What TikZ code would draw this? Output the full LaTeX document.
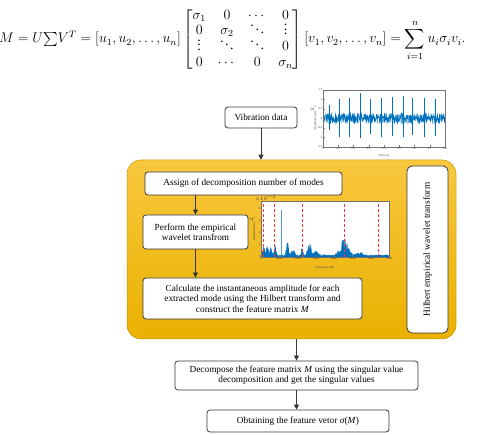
\documentclass[tikz,border=0pt]{standalone}
\usepackage{amsmath}
\usepackage{graphicx}
\usepackage{fontspec}
\setmainfont{Liberation Serif}
\usetikzlibrary{arrows.meta}
\definecolor{mblue}{RGB}{0,114,189}
\definecolor{orangeT}{RGB}{249,199,62}
\definecolor{orangeB}{RGB}{233,177,0}
\definecolor{edge}{RGB}{55,55,55}
\begin{document}
\begin{tikzpicture}[x=1pt,y=-1pt,
  stepbox/.style={draw=edge, line width=0.8pt, fill=white, rounded corners=3pt, inner sep=1pt, align=center, font=\fontsize{9.3}{10.4}\selectfont},
  flow/.style={draw=edge, line width=0.7pt, -{Triangle[length=5pt,width=5pt]}},
  tiny/.style={font=\fontsize{3}{3.5}\selectfont, inner sep=0.4pt, text=black!75},
  axisline/.style={draw=black!55, line width=0.25pt},
]
\useasboundingbox (0,0) rectangle (482,435);

% equation
\node[anchor=west, inner sep=0] (eq) at (-1,39.5) {\scalebox{1.168}{\fontsize{12}{14}\selectfont\renewcommand{\arraystretch}{0.96}%
  $\displaystyle M = U{\textstyle\sum}V^T = [u_1, u_2, \ldots, u_n]
  \begin{bmatrix}\sigma_1 & 0 & \cdots & 0\\ 0 & \sigma_2 & \smash{\ddots} & \smash{\vdots}\\ \smash{\vdots} & \smash{\ddots} & \smash{\ddots} & 0\\ 0 & \cdots & 0 & \sigma_n\end{bmatrix}
  [v_1, v_2, \ldots, v_n] = \sum_{i=1}^{n} u_i\sigma_i v_i.$}};

% orange region
\node[draw=orangeB!85!black, line width=0.5pt, rounded corners=14pt, top color=orangeT, bottom color=orangeB,
      minimum width=329pt, minimum height=179pt, inner sep=0] (hewt) at (291.5,249.5) {};

% boxes
\node[stepbox, minimum width=72pt, minimum height=21pt] (vib) at (261,117.5) {Vibration data};
\node[stepbox, minimum width=197pt, minimum height=23pt] (assign) at (243.5,183.5) {Assign of decomposition number of modes};
\node[stepbox, minimum width=105pt, minimum height=34pt] (perform) at (195.5,232) {Perform the empirical\\wavelet transfrom};
\node[stepbox, minimum width=219pt, minimum height=41pt] (calc) at (252.5,298.5) {Calculate the instantaneous amplitude for each\\extracted mode using the Hilbert transform and\\construct the feature matrix \textit{M}};
\node[stepbox, rounded corners=5pt, minimum width=167pt, minimum height=41pt, rotate=90] (hilb) at (427.5,249.5) {Hilbert empirical wavelet transform};
\node[stepbox, minimum width=243pt, minimum height=29pt] (decomp) at (296.5,375.5) {Decompose the feature matrix \textit{M} using the singular value\\decomposition and get the singular values};
\node[stepbox, minimum width=182pt, minimum height=22pt] (obtain) at (298,421) {Obtaining the feature vetor \textit{σ}(\textit{M})};

% arrows
\draw[flow] (vib.south) -- (vib.south |- hewt.north);
\draw[flow] (assign.south -| perform.north) -- (perform.north);
\draw[flow] (perform.south) -- (perform.south |- calc.north);
\draw[flow] (decomp.north |- hewt.south) -- (decomp.north);
\draw[flow] (decomp.south) -- (decomp.south |- obtain.north);

% time plot
\begin{scope}[shift={(323pt,-118.5pt)}, x=152.5pt, y=19pt]
  \fill[white] (0,-1.5) rectangle (0.8,1.5);
  \begin{scope}
    \clip (0,-1.5) rectangle (0.8,1.5);
    \pgfmathsetseed{7}
    \draw[mblue, line width=0.4pt] plot[domain=0:0.8, samples=560] (\x, {0.28*rand});
    \foreach \t/\u/\d in {0.04/0.7/-0.6, 0.109/1.05/-1.0, 0.174/1.1/-0.95, 0.244/1.35/-1.05, 0.309/1.0/-0.8,
                          0.381/1.1/-1.0, 0.451/1.15/-0.9, 0.523/1.2/-1.0, 0.588/1.1/-0.85, 0.664/1.1/-1.0, 0.734/1.0/-0.9}
      {\draw[mblue, line width=0.45pt] (\t,\d) -- (\t,\u);}
  \end{scope}
  \draw[axisline] (0,-1.5) rectangle (0.8,1.5);
  \foreach \t in {0,0.1,0.2,0.3,0.4,0.5,0.6,0.7,0.8}
    {\draw[axisline] (\t,-1.5) -- (\t,-1.42); \node[tiny, below] at (\t,-1.5) {\t};}
  \foreach \v in {-1.5,-1,-0.5,0,0.5,1,1.5}
    {\draw[axisline] (0,\v) -- (0.012,\v); \node[tiny, left] at (0,\v) {\v};}
  \node[tiny, rotate=90] at (-0.06,0) {Amplitude (m/s$^2$)};
  \node[tiny] at (0.4,-1.95) {Time (s)};
\end{scope}

% spectrum plot
\begin{scope}[shift={(261pt,-257pt)}, x=18.286pt, y=6.1pt]
  \fill[white] (0,0) rectangle (7,9.18);
  \begin{scope}
    \clip (0,0) rectangle (7,9.18);
    \pgfmathsetseed{11}
    \fill[mblue, draw=mblue, line width=0.25pt] (0,0) -- plot[domain=0:7, samples=380]
      (\x, {(0.3 + 1.2*exp(max(-9,-100*(\x-0.15)^2)) + 1.8*exp(max(-9,-150*(\x-0.35)^2))
             + 1.4*exp(max(-9,-200*(\x-0.55)^2)) + 1.5*exp(max(-9,-200*(\x-0.78)^2))
             + 2.1*exp(max(-9,-150*(\x-1.45)^2)) + 1.0*exp(max(-9,-100*(\x-1.75)^2))
             + 1.3*exp(max(-9,-300*(\x-2.25)^2)) + 1.9*exp(max(-9,-60*(\x-2.65)^2))
             + 0.7*exp(max(-9,-50*(\x-3.0)^2)) + 2.3*exp(max(-9,-12*(\x-4.55)^2))
             + 0.4*exp(max(-9,-20*(\x-5.4)^2)))*(0.45+0.75*rnd)}) -- (7,0) -- cycle;
    \draw[mblue!70, line width=0.6pt] (1.09,0) -- (1.09,7.7);
    \foreach \f in {0.11,0.71,2.24,4.54,6.40}
      {\draw[red!80, densely dashed, line width=0.4pt] (\f,0) -- (\f,9.18);}
  \end{scope}
  \draw[axisline] (0,0) rectangle (7,9.18);
  \foreach \f/\l in {0/0,1/1000,2/2000,3/3000,4/4000,5/5000,6/6000,7/7000}
    {\draw[axisline] (\f,0) -- (\f,0.25); \node[tiny, below] at (\f,0) {\l};}
  \foreach \v in {0,2,4,6,8}
    {\draw[axisline] (0,\v) -- (0.06,\v); \node[tiny, left] at (0,\v) {\v};}
  \node[tiny] at (0.25,9.6) {$\times10^{-3}$};
  \node[tiny, rotate=90] at (-0.45,4.6) {Amplitude (m/s$^2$)};
  \node[tiny] at (3.5,-1.75) {Frequency (Hz)};
\end{scope}
\end{tikzpicture}
\end{document}
